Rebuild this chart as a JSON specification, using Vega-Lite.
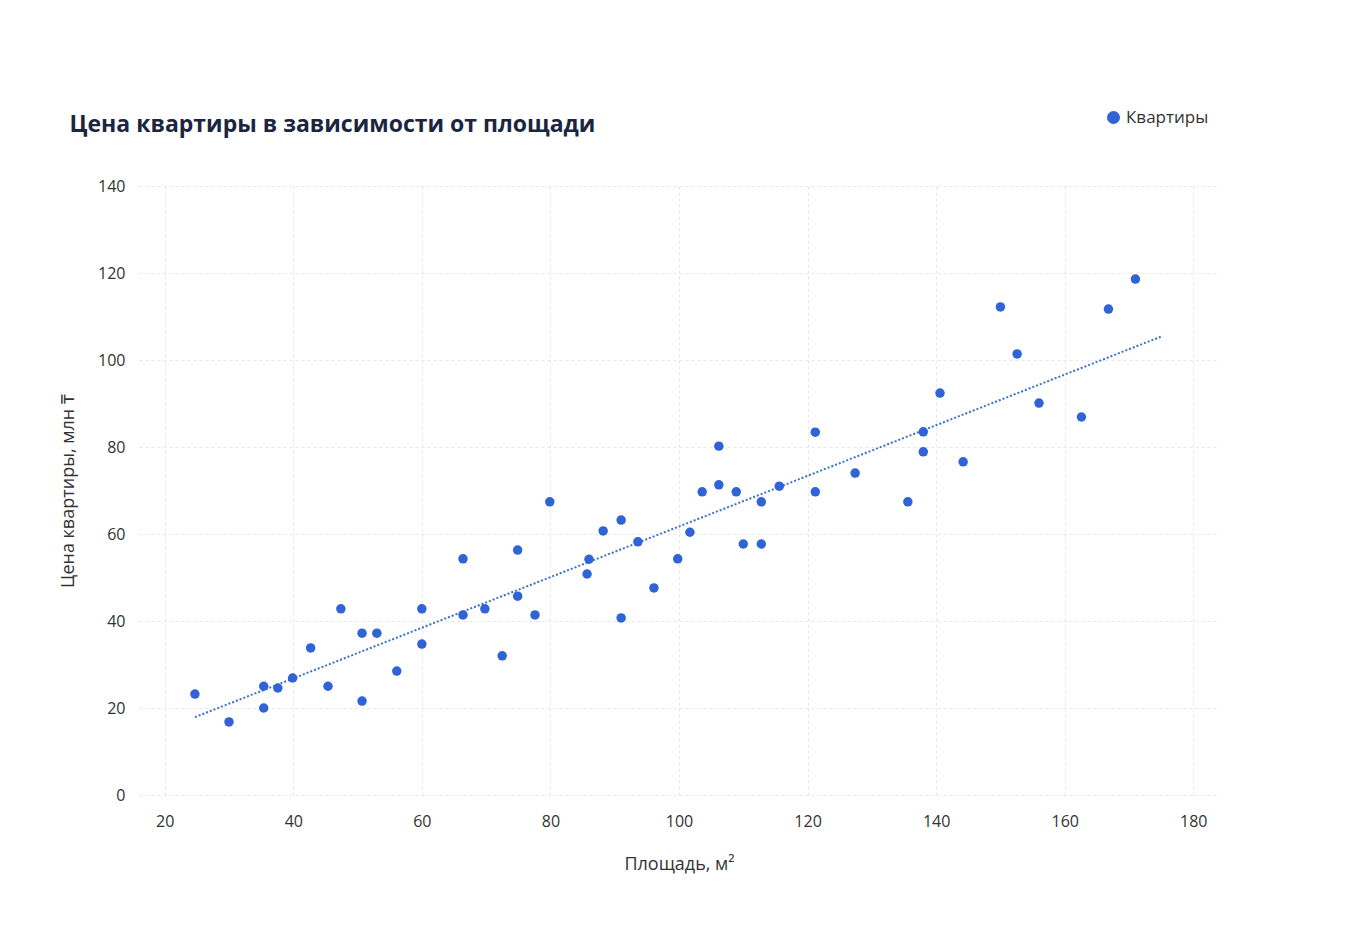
{
  "$schema": "https://vega.github.io/schema/vega-lite/v6.json",
  "width": 1080,
  "height": 609,
  "autosize": "none",
  "padding": {"left": 139, "top": 186, "right": 131, "bottom": 141},
  "background": "white",
  "config": {
    "font": "Open Sans",
    "view": {"stroke": null},
    "axis": {"domain": false, "ticks": false, "grid": true, "gridColor": "#e6e6e6", "gridDash": [3, 3], "labelFontSize": 16, "labelColor": "#333", "titleFontSize": 18, "titleFontWeight": "normal", "titleColor": "#333"}
  },
  "title": {"text": "Цена квартиры в зависимости от площади", "anchor": "start", "dx": 10, "offset": -28, "fontSize": 23, "fontWeight": "bold", "color": "#1b2540"},
  "datasets": {
    "pts": [
      {"x":24.7,"y":23.2},{"x":30,"y":16.8},{"x":35.4,"y":25},{"x":35.4,"y":20},{"x":37.6,"y":24.6},{"x":39.9,"y":26.9},{"x":42.7,"y":33.8},{"x":45.4,"y":25},{"x":47.4,"y":42.8},{"x":50.7,"y":37.2},{"x":50.7,"y":21.6},{"x":53,"y":37.2},{"x":56.1,"y":28.5},{"x":60,"y":42.8},{"x":60,"y":34.7},{"x":66.4,"y":54.3},{"x":66.4,"y":41.4},{"x":69.8,"y":42.8},{"x":72.5,"y":32},{"x":74.9,"y":56.3},{"x":74.9,"y":45.7},{"x":77.6,"y":41.4},{"x":79.9,"y":67.4},{"x":85.7,"y":50.8},{"x":86,"y":54.2},{"x":88.2,"y":60.7},{"x":91,"y":63.2},{"x":91,"y":40.7},{"x":93.6,"y":58.2},{"x":96.1,"y":47.6},{"x":99.8,"y":54.3},{"x":101.7,"y":60.4},{"x":103.6,"y":69.7},{"x":106.2,"y":80.2},{"x":106.2,"y":71.3},{"x":108.9,"y":69.7},{"x":110,"y":57.7},{"x":112.8,"y":57.7},{"x":112.8,"y":67.4},{"x":115.6,"y":71},{"x":121.2,"y":83.4},{"x":121.2,"y":69.7},{"x":127.4,"y":74},{"x":135.6,"y":67.4},{"x":138,"y":78.9},{"x":138,"y":83.5},{"x":140.6,"y":92.4},{"x":144.2,"y":76.6},{"x":150,"y":112.2},{"x":152.6,"y":101.4},{"x":156,"y":90.1},{"x":162.6,"y":86.9},{"x":166.8,"y":111.7},{"x":171,"y":118.6}
    ],
    "trend": [{"x": 24.7, "y": 17.9}, {"x": 175.2, "y": 105.5}]
  },
  "layer": [
    {
      "data": {"name": "trend"},
      "mark": {"type": "line", "color": "#3a72c9", "strokeWidth": 2, "strokeDash": [2, 2]},
      "encoding": {
        "x": {"field": "x", "type": "quantitative"},
        "y": {"field": "y", "type": "quantitative"}
      }
    },
    {
      "data": {"name": "pts"},
      "transform": [{"calculate": "'Квартиры'", "as": "s"}],
      "mark": {"type": "circle", "size": 90, "opacity": 1},
      "encoding": {
        "x": {"field": "x", "type": "quantitative", "title": "Площадь, м²", "scale": {"domain": [16, 184], "nice": false}, "axis": {"values": [20, 40, 60, 80, 100, 120, 140, 160, 180], "labelPadding": 18, "titlePadding": 26}},
        "y": {"field": "y", "type": "quantitative", "title": "Цена квартиры, млн ₸", "scale": {"domain": [0, 140], "nice": false}, "axis": {"values": [0, 20, 40, 60, 80, 100, 120, 140], "labelPadding": 14, "titlePadding": 20}},
        "color": {"field": "s", "type": "nominal", "scale": {"range": ["#2f63d6"]}, "legend": {"title": null, "orient": "none", "legendX": 966, "legendY": -77, "labelFontSize": 17, "labelColor": "#333", "symbolSize": 170}}
      }
    }
  ]
}
